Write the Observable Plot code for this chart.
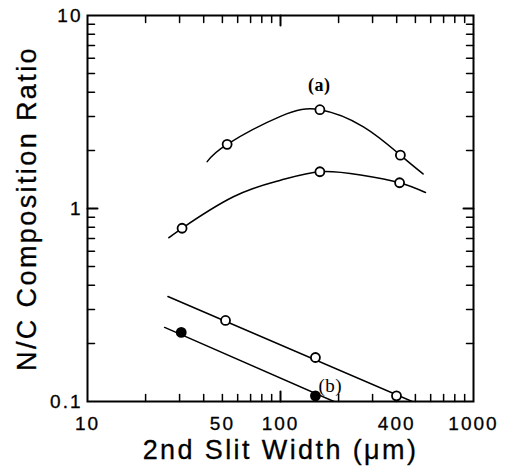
<!DOCTYPE html>
<html><head><meta charset="utf-8">
<script src="https://cdn.jsdelivr.net/npm/d3@7"></script>
<script src="https://cdn.jsdelivr.net/npm/@observablehq/plot@0.6"></script>
<style>body{margin:0;background:#fff}</style>
</head><body><div id="chart"></div>
<script>
// Series (a) upper curve: open circles
const a1X = [52.9, 160, 418];
const a1Y = [2.15, 3.25, 1.89];
const a1CurveX = [41.7, 52.9, 100, 160, 269, 418, 548];
const a1CurveY = [1.75, 2.15, 3.0, 3.25, 2.65, 1.89, 1.51];
// Series (a) lower curve
const a2X = [30.9, 160, 414];
const a2Y = [0.79, 1.55, 1.36];
const a2CurveX = [26.4, 30.9, 57, 100, 160, 260, 414, 564];
const a2CurveY = [0.706, 0.79, 1.15, 1.40, 1.55, 1.49, 1.36, 1.21];
// Series (b) upper line: open circles
const b1X = [51.9, 151.7, 399];
const b1Y = [0.263, 0.169, 0.107];
const b1LineX = [26.1, 481];
const b1LineY = [0.35, 0.1];
// Series (b) lower line: filled circles
const b2X = [30.6, 151.7];
const b2Y = [0.228, 0.107];
const b2LineX = [25.1, 189];
const b2LineY = [0.242, 0.1];

// Ticks and labels
const xTickLabels = [10, 50, 100, 400, 1000];
const yTickLabels = [0.1, 1, 10];
const xMinor = [20, 30, 40, 50, 60, 70, 80, 90, 200, 300, 400, 500, 600, 700, 800, 900];
const xMajor = [100];
const yMinor = [0.2, 0.3, 0.4, 0.5, 0.6, 0.7, 0.8, 0.9, 2, 3, 4, 5, 6, 7, 8, 9];
const yMajor = [1];
const xTitle = "2nd Slit Width (\u03bcm)";
const yTitle = "N/C Composition Ratio";
const labelA = [{x: 159, y: 4.35, t: "(a)"}];
const labelB = [{x: 181, y: 0.121, t: "(b)"}];

const zip = (xs, ys) => xs.map((x, i) => ({x, y: ys[i]}));
const serif = "'Liberation Serif', 'DejaVu Serif', serif";
const tickShape = {draw(context, l) { context.moveTo(0, 0); context.lineTo(0, -l); }};
const tick = (data, xf, yf, len, rot, sw) =>
  Plot.vector(data, {x: xf, y: yf, length: len, rotate: rot, anchor: "start", shape: tickShape, stroke: "#000", strokeWidth: sw});

const chart = Plot.plot({
  width: 509,
  height: 466,
  marginLeft: 87,
  marginRight: 36,
  marginTop: 15,
  marginBottom: 65,
  style: {fontFamily: "'Liberation Sans', Arial, sans-serif", background: "#fff", color: "#000"},
  x: {type: "log", domain: [10, 1000], axis: null},
  y: {type: "log", domain: [0.1, 10], axis: null},
  marks: [
    // inward ticks
    tick(xMinor, d => d, () => 0.1, 7, 0, 1.5),
    tick(xMinor, d => d, () => 10, 7, 180, 1.5),
    tick(xMajor, d => d, () => 0.1, 10, 0, 2),
    tick(xMajor, d => d, () => 10, 10, 180, 2),
    tick(yMinor, () => 10, d => d, 7, 90, 1.5),
    tick(yMinor, () => 1000, d => d, 7, 270, 1.5),
    tick(yMajor, () => 10, d => d, 10, 90, 2),
    tick(yMajor, () => 1000, d => d, 10, 270, 2),
    // curves
    Plot.line(zip(a1CurveX, a1CurveY), {x: "x", y: "y", curve: "natural", stroke: "#000", strokeWidth: 1.5}),
    Plot.line(zip(a2CurveX, a2CurveY), {x: "x", y: "y", curve: "natural", stroke: "#000", strokeWidth: 1.5}),
    Plot.line(zip(b1LineX, b1LineY), {x: "x", y: "y", stroke: "#000", strokeWidth: 1.5, clip: true}),
    Plot.line(zip(b2LineX, b2LineY), {x: "x", y: "y", stroke: "#000", strokeWidth: 1.5, clip: true}),
    // markers
    Plot.dot(zip(a1X, a1Y), {x: "x", y: "y", r: 4.5, stroke: "#000", fill: "#fff", strokeWidth: 1.8}),
    Plot.dot(zip(a2X, a2Y), {x: "x", y: "y", r: 4.5, stroke: "#000", fill: "#fff", strokeWidth: 1.8}),
    Plot.dot(zip(b1X, b1Y), {x: "x", y: "y", r: 4.5, stroke: "#000", fill: "#fff", strokeWidth: 1.8}),
    Plot.dot(zip(b2X, b2Y), {x: "x", y: "y", r: 4.5, stroke: "#000", fill: "#000", strokeWidth: 1.8}),
    // curve labels
    Plot.text(labelA, {x: "x", y: "y", text: "t", fontWeight: "bold", fontFamily: serif, fontSize: 18, fill: "#000"}),
    Plot.text(labelB, {x: "x", y: "y", text: "t", fontFamily: serif, fontSize: 19, fill: "#000"}),
    // frame
    Plot.frame({stroke: "#000", strokeWidth: 2}),
    // tick labels
    Plot.text(xTickLabels, {x: d => d, y: () => 0.1, text: d => String(d), dy: 22, fontSize: 19, fill: "#000", stroke: "#000", strokeWidth: 0.3}),
    Plot.text(yTickLabels, {x: () => 10, y: d => d, text: d => String(d), dx: -5, textAnchor: "end", fontSize: 19, fill: "#000", stroke: "#000", strokeWidth: 0.3}),
    // axis titles
    Plot.text([xTitle], {frameAnchor: "bottom", textAnchor: "middle", lineAnchor: "middle", text: d => d, dy: 49, fontSize: 27, fill: "#000", stroke: "#000", strokeWidth: 0.3}),
    Plot.text([yTitle], {frameAnchor: "left", textAnchor: "middle", lineAnchor: "middle", text: d => d, rotate: -90, dx: -60, fontSize: 27, fill: "#000", stroke: "#000", strokeWidth: 0.3})
  ]
});

d3.select(chart).selectAll("text").each(function() {
  const t = this.textContent;
  const el = d3.select(this);
  if (t === xTitle || t === yTitle) el.attr("letter-spacing", "2.4px");
  else if (t === "(a)" || t === "(b)") el.attr("letter-spacing", "0.5px");
  else el.attr("letter-spacing", "2px");
});

document.getElementById("chart").appendChild(chart);
</script>
</body></html>
